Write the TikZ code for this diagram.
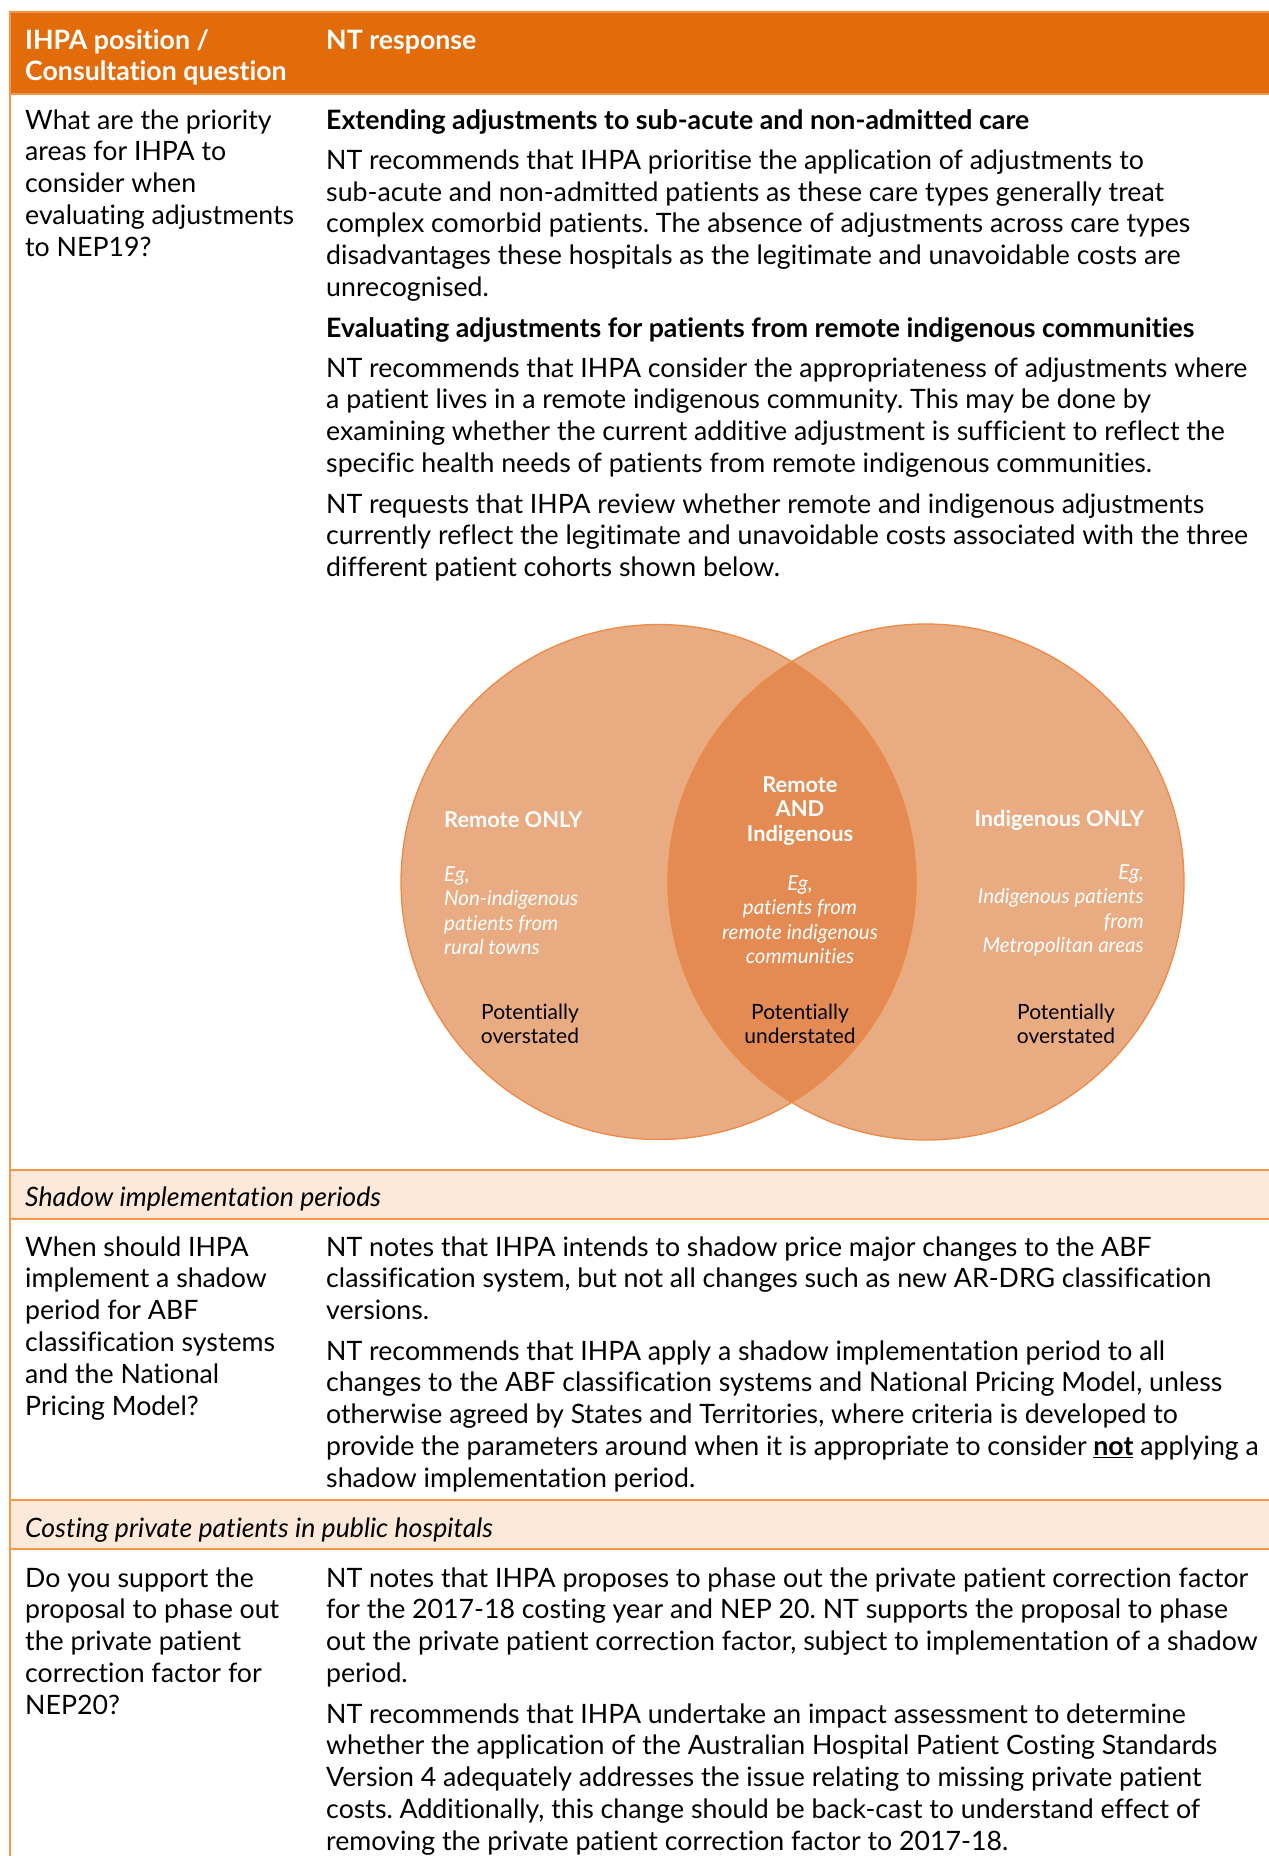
\documentclass[tikz,border=0pt]{standalone}
\usepackage{fontspec}
\setmainfont{Lato}[Ligatures={NoCommon}]
\frenchspacing
\definecolor{hdrorange}{HTML}{E36C0A}
\definecolor{lineorange}{HTML}{F79646}
\definecolor{bandfill}{HTML}{FDE9D9}
\definecolor{circfill}{HTML}{E9AB81}
\definecolor{interfill}{HTML}{E38B52}
\definecolor{circline}{HTML}{EE8A45}
\tikzset{
  rule/.style={draw=lineorange, line width=2pt},
  body/.style={inner sep=0pt, anchor=base west, font=\fontsize{26.7pt}{31.8pt}\selectfont, text=black},
  bodyb/.style={body, font=\fontsize{26.7pt}{31.8pt}\selectfont\bfseries},
  headtxt/.style={body, font=\fontsize{26.7pt}{31.8pt}\selectfont\bfseries, text=white},
  bandtxt/.style={body, font=\fontsize{26.7pt}{31.8pt}\selectfont\itshape},
  venntitle/.style={inner sep=0pt, font=\fontsize{21.8pt}{24.5pt}\selectfont\bfseries, text=white},
  vennex/.style={inner sep=0pt, font=\fontsize{20.5pt}{24.5pt}\selectfont\itshape, text=white},
  vennnote/.style={inner sep=0pt, font=\fontsize{21pt}{24pt}\selectfont, text=black}
}
\begin{document}
\begin{tikzpicture}[x=1pt,y=-1pt]
\useasboundingbox (0,0) rectangle (1269,1856);
% header
\fill[hdrorange] (10,12) rectangle (1269,94);
\draw[rule] (10,12) -- (1269,12);
\draw[rule] (10,94) -- (1269,94);
% bands
\fill[bandfill] (10,1170) rectangle (1269,1219);
\draw[rule] (10,1170) -- (1269,1170);
\draw[rule] (10,1219) -- (1269,1219);
\fill[bandfill] (10,1500) rectangle (1269,1549);
\draw[rule] (10,1500) -- (1269,1500);
\draw[rule] (10,1549) -- (1269,1549);
% left border
\draw[rule] (10,11) -- (10,1856);

% header text
\node[headtxt] (h1) at (25,49) {\parbox[t]{290pt}{IHPA position /\\Consultation question}};
\node[headtxt] (h2) at (326,49) {NT response};

% row 1
\node[body] (q1) at (25,129) {\parbox[t]{290pt}{What are the priority\\areas for IHPA to\\consider when\\evaluating adjustments\\to NEP19?}};
\node[bodyb] (t1) at (326,129) {Extending adjustments to sub-acute and non-admitted care};
\node[body] (p1) at (326,169.3) {\parbox[t]{940pt}{NT recommends that IHPA prioritise the application of adjustments to\\sub-acute and non-admitted patients as these care types generally treat\\complex comorbid patients. The absence of adjustments across care types\\disadvantages these hospitals as the legitimate and unavoidable costs are\\unrecognised.}};
\node[bodyb] (t2) at (326,337) {Evaluating adjustments for patients from remote indigenous communities};
\node[body] (p2) at (326,377) {\parbox[t]{940pt}{NT recommends that IHPA consider the appropriateness of adjustments where\\a patient lives in a remote indigenous community. This may be done by\\examining whether the current additive adjustment is sufficient to reflect the\\specific health needs of patients from remote indigenous communities.}};
\node[body] (p3) at (326,513) {\parbox[t]{940pt}{NT requests that IHPA review whether remote and indigenous adjustments\\currently reflect the legitimate and unavoidable costs associated with the three\\different patient cohorts shown below.}};

% Venn diagram
\fill[circfill] (658.5,882) circle[radius=257.5pt];
\fill[circfill] (926,882) circle[radius=258pt];
\begin{scope}
  \clip (658.5,882) circle[radius=257.5pt];
  \fill[interfill] (926,882) circle[radius=258pt];
\end{scope}
\draw[circline, line width=1.3pt] (658.5,882) circle[radius=257.5pt];
\draw[circline, line width=1.3pt] (926,882) circle[radius=258pt];

\node[venntitle, anchor=base west] (lt) at (444,827) {Remote ONLY};
\node[vennex, anchor=base west] (le) at (444,881) {\parbox[t]{200pt}{\raggedright Eg,\\Non-indigenous\\patients from\\rural towns}};
\node[vennnote, anchor=base] (ln) at (530,1019) {\parbox[t]{150pt}{\centering Potentially\\overstated}};

\node[venntitle, anchor=base] (ct) at (800,792) {\parbox[t]{200pt}{\centering Remote\\AND\\Indigenous}};
\node[vennex, anchor=base] (ce) at (800,890) {\parbox[t]{220pt}{\centering Eg,\\patients from\\remote indigenous\\communities}};
\node[vennnote, anchor=base] (cn) at (800,1019) {\parbox[t]{150pt}{\centering Potentially\\understated}};

\node[venntitle, anchor=base east] (rt) at (1144,826) {Indigenous ONLY};
\node[vennex, anchor=base east] (re) at (1144,879) {\parbox[t]{220pt}{\raggedleft Eg,\\Indigenous patients\\from\\Metropolitan areas}};
\node[vennnote, anchor=base] (rn) at (1066,1019) {\parbox[t]{150pt}{\centering Potentially\\overstated}};

% band 1 + row 2
\node[bandtxt] (b1) at (25,1206.5) {Shadow implementation periods};
\node[body] (q2) at (25,1256) {\parbox[t]{290pt}{When should IHPA\\implement a shadow\\period for ABF\\classification systems\\and the National\\Pricing Model?}};
\node[body] (p4) at (326,1256) {\parbox[t]{940pt}{NT notes that IHPA intends to shadow price major changes to the ABF\\classification system, but not all changes such as new AR-DRG classification\\versions.}};
\node[body] (p5) at (326,1360) {\parbox[t]{940pt}{NT recommends that IHPA apply a shadow implementation period to all\\changes to the ABF classification systems and National Pricing Model, unless\\otherwise agreed by States and Territories, where criteria is developed to\\provide the parameters around when it is appropriate to consider \underline{\textbf{not}} applying a\\shadow implementation period.}};

% band 2 + row 3
\node[bandtxt] (b2) at (25,1537.5) {Costing private patients in public hospitals};
\node[body] (q3) at (25,1587) {\parbox[t]{290pt}{Do you support the\\proposal to phase out\\the private patient\\correction factor for\\NEP20?}};
\node[body] (p6) at (326,1587) {\parbox[t]{940pt}{NT notes that IHPA proposes to phase out the private patient correction factor\\for the 2017-18 costing year and NEP 20. NT supports the proposal to phase\\out the private patient correction factor, subject to implementation of a shadow\\period.}};
\node[body] (p7) at (326,1723) {\parbox[t]{940pt}{NT recommends that IHPA undertake an impact assessment to determine\\whether the application of the Australian Hospital Patient Costing Standards\\Version 4 adequately addresses the issue relating to missing private patient\\costs. Additionally, this change should be back-cast to understand effect of\\removing the private patient correction factor to 2017-18.}};
\end{tikzpicture}
\end{document}
